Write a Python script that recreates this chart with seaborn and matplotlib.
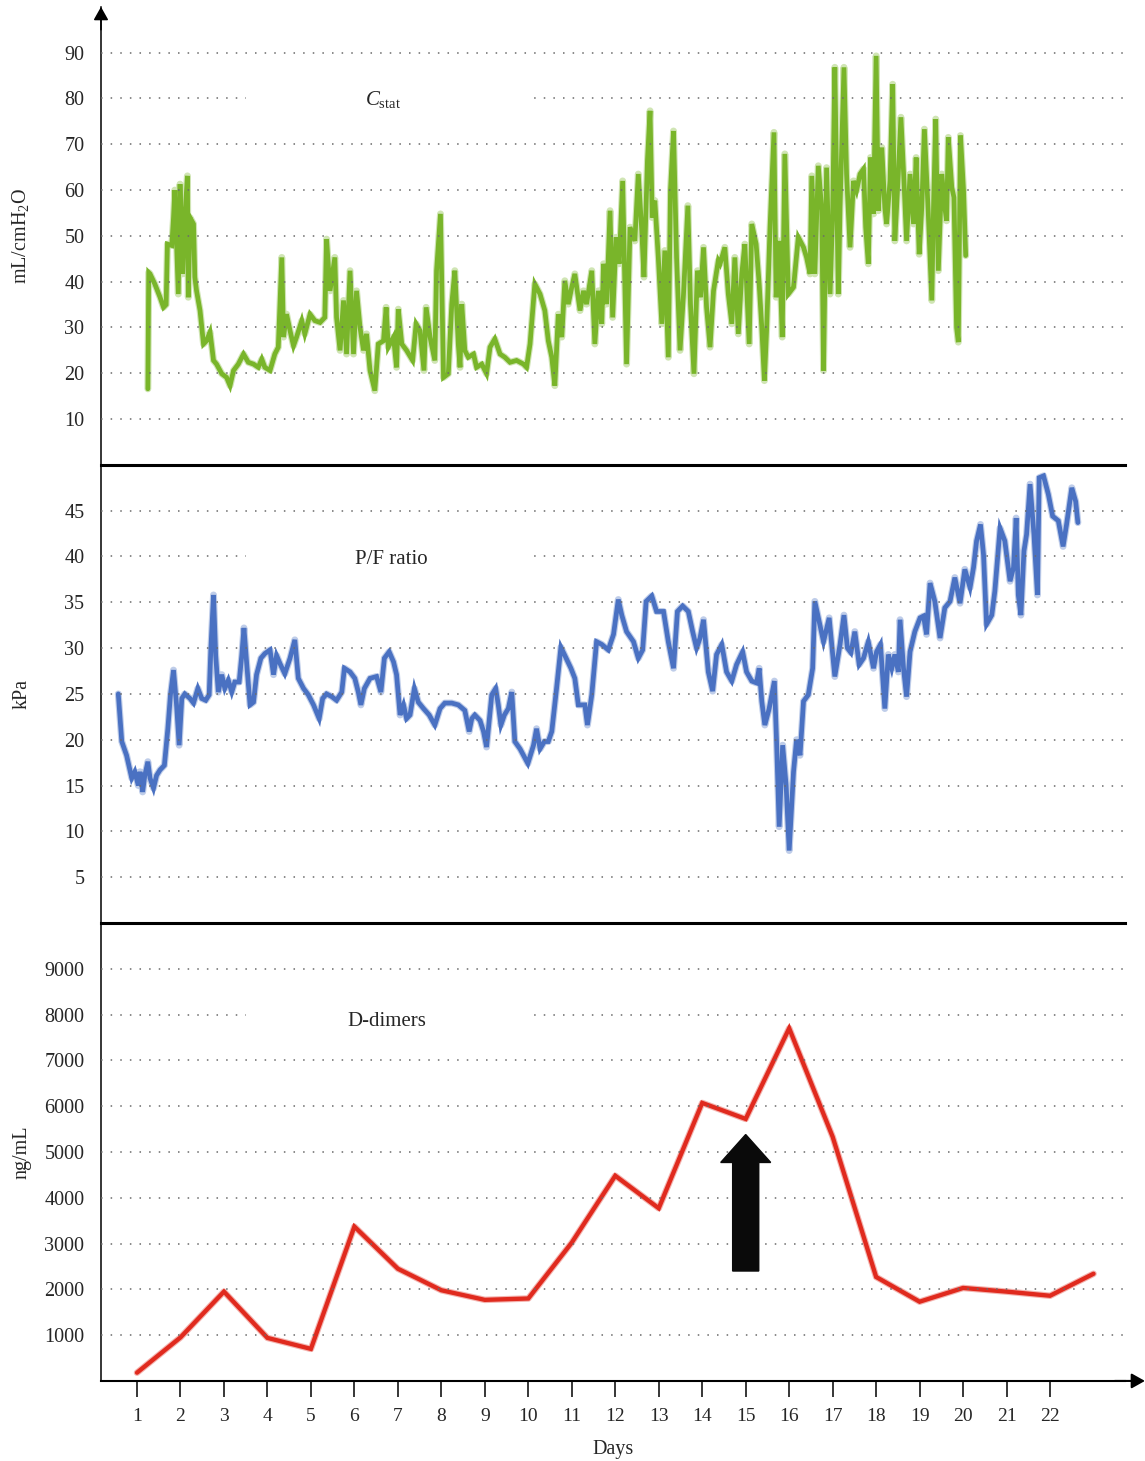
import numpy as np
import pandas as pd
import matplotlib
matplotlib.use("Agg")
import matplotlib.pyplot as plt
import seaborn as sns
from matplotlib.patches import Rectangle

# ---------------- data ----------------
days_ticks = list(range(1, 23))

# Static compliance (mL/cmH2O)
cstat_day = [
    1.25, 1.27, 1.30, 1.41, 1.53, 1.61, 1.67, 1.70, 1.80, 1.84,
    1.87, 1.95, 1.99, 2.05, 2.10, 2.16, 2.18, 2.22, 2.30, 2.33,
    2.37, 2.45, 2.53, 2.60, 2.68, 2.76, 2.83, 2.95, 3.06, 3.14,
    3.22, 3.33, 3.45, 3.56, 3.68, 3.79, 3.87, 3.94, 4.06, 4.17,
    4.25, 4.33, 4.37, 4.44, 4.52, 4.60, 4.67, 4.79, 4.86, 4.98,
    5.09, 5.21, 5.32, 5.36, 5.44, 5.55, 5.59, 5.67, 5.75, 5.82,
    5.90, 5.98, 6.05, 6.13, 6.21, 6.28, 6.36, 6.47, 6.55, 6.67,
    6.73, 6.78, 6.90, 6.97, 7.01, 7.09, 7.20, 7.34, 7.42, 7.51,
    7.60, 7.65, 7.74,
    7.85, 7.89, 7.98, 8.05, 8.16, 8.24, 8.31, 8.39, 8.43, 8.47,
    8.54, 8.62, 8.74, 8.81, 8.93, 9.04, 9.12, 9.23, 9.35, 9.46,
    9.58, 9.73, 9.89, 9.96, 10.04, 10.15, 10.27, 10.38, 10.46, 10.54,
    10.61, 10.69, 10.77, 10.84, 10.92, 11.00, 11.07, 11.19, 11.27, 11.34,
    11.46, 11.53, 11.61, 11.69, 11.73, 11.80, 11.88, 11.94, 12.02, 12.09,
    12.17, 12.26, 12.34, 12.45, 12.53, 12.61, 12.66, 12.74, 12.80, 12.85,
    12.91, 12.99, 13.07, 13.14, 13.22, 13.27, 13.34, 13.41, 13.49, 13.57,
    13.67, 13.73, 13.81, 13.89, 13.96, 14.03, 14.10, 14.18, 14.26, 14.37,
    14.41, 14.52, 14.60, 14.68, 14.75, 14.83, 14.91, 14.98, 15.08, 15.14,
    15.24, 15.31, 15.37, 15.43, 15.48, 15.56, 15.65, 15.70, 15.77, 15.84,
    15.90, 15.98, 16.10, 16.21, 16.33, 16.40, 16.48, 16.52, 16.59, 16.67,
    16.75, 16.79, 16.86, 16.94, 17.00, 17.05, 17.13, 17.17, 17.26, 17.32,
    17.40, 17.48, 17.55, 17.63, 17.71, 17.76, 17.82, 17.87, 17.94, 18.00,
    18.05, 18.13, 18.20, 18.24, 18.32, 18.38, 18.43, 18.51, 18.57, 18.64,
    18.70, 18.78, 18.86, 18.92, 18.99, 19.05, 19.11, 19.20, 19.28, 19.32,
    19.37, 19.43, 19.51, 19.58, 19.62, 19.66, 19.74, 19.79, 19.85, 19.89,
    19.94, 20.01, 20.06,
]
cstat_val = [
    16.6, 42.0, 41.7, 39.5, 36.6, 34.4, 35.0, 48.2, 47.9, 54.0,
    60.0, 37.3, 61.3, 41.7, 54.0, 63.1, 36.6, 54.0, 52.6, 41.0,
    38.0, 33.7, 26.4, 27.1, 29.0, 22.8, 22.0, 19.9, 19.1, 17.3,
    20.6, 22.0, 24.2, 22.4, 22.0, 21.3, 23.1, 21.3, 20.6, 24.2,
    25.7, 45.3, 27.9, 32.9, 29.3, 26.0, 27.9, 31.5, 28.6, 32.9,
    31.5, 31.1, 32.2, 49.3, 38.0, 45.3, 32.2, 25.0, 35.9, 24.2,
    42.4, 24.2, 38.0, 30.0, 25.0, 28.6, 20.6, 16.2, 26.4, 27.1,
    34.4, 25.7, 27.9, 21.3, 34.0, 26.4, 25.0, 22.8, 30.8, 29.3,
    20.6, 34.4, 27.9,
    22.8, 42.4, 54.8, 19.1, 19.9, 35.1, 42.4, 26.4, 21.3, 35.1,
    25.0, 23.5, 24.2, 21.3, 22.0, 19.9, 25.7, 27.5, 24.2, 23.5,
    22.4, 22.8, 22.0, 21.3, 26.4, 39.5, 37.3, 33.7, 27.1, 23.5,
    17.3, 32.9, 27.9, 40.2, 35.1, 38.8, 41.7, 33.7, 38.0, 35.1,
    42.4, 26.4, 38.0, 30.8, 43.9, 35.1, 55.5, 32.2, 49.7, 43.9,
    62.0, 22.0, 51.9, 48.9, 63.5, 51.1, 41.0, 66.4, 77.3, 54.0,
    57.7, 45.3, 30.8, 46.8, 23.5, 59.9, 72.9, 45.3, 25.0, 37.3,
    56.6, 35.1, 19.9, 42.4, 36.6, 47.5, 34.4, 25.7, 38.0, 44.6,
    43.9, 47.5, 37.3, 30.8, 45.3, 28.6, 41.7, 48.2, 26.4, 52.6,
    48.2, 39.5, 30.0, 18.4, 29.3, 51.9, 72.6, 36.6, 48.9, 27.9,
    67.9, 37.3, 38.8, 49.7, 47.5, 45.3, 41.7, 63.1, 41.7, 65.3,
    55.5, 20.6, 64.9, 37.3, 54.8, 86.8, 37.3, 56.2, 86.8, 63.5,
    47.5, 62.0, 59.9, 63.5, 64.6, 51.9, 43.9, 67.1, 54.8, 89.3,
    55.5, 69.3, 56.2, 52.6, 62.0, 83.1, 48.9, 63.5, 75.9, 62.0,
    48.9, 63.5, 52.6, 67.1, 46.0, 56.2, 73.3, 54.8, 35.9, 56.2,
    75.5, 42.4, 63.5, 56.2, 53.3, 71.5, 60.6, 58.4, 30.0, 26.8,
    71.9, 59.9, 45.7,
]

# P/F ratio (kPa)
pf_day = [
    0.57, 0.65, 0.76, 0.88, 0.95, 1.03, 1.07, 1.13, 1.18, 1.25,
    1.30, 1.38, 1.45, 1.53, 1.63, 1.71, 1.77, 1.84, 1.91, 1.97,
    2.03, 2.10, 2.22, 2.30, 2.40, 2.49, 2.58, 2.66, 2.70, 2.76,
    2.81, 2.87, 2.95, 3.02, 3.10, 3.18, 3.25, 3.35, 3.41, 3.46,
    3.52, 3.60, 3.68, 3.75, 3.85, 3.94, 4.06, 4.14, 4.21, 4.29,
    4.40, 4.52, 4.63, 4.71, 4.83, 4.94, 5.06, 5.19, 5.27, 5.36,
    5.48, 5.59, 5.71, 5.77, 5.90, 6.01, 6.09, 6.15, 6.23, 6.36,
    6.51, 6.61, 6.69, 6.80, 6.90, 6.97, 7.05, 7.13, 7.20, 7.28,
    7.38, 7.47, 7.59, 7.72, 7.85, 7.97, 8.08, 8.24, 8.39, 8.54,
    8.64, 8.70, 8.77, 8.89, 8.97, 9.04, 9.16, 9.25, 9.31, 9.37,
    9.45, 9.54, 9.62, 9.69, 9.81, 9.89, 9.99, 10.12, 10.19, 10.27,
    10.37, 10.46, 10.54, 10.65, 10.75, 10.84, 10.98, 11.07, 11.15, 11.30,
    11.36, 11.46, 11.57, 11.69, 11.84, 11.96, 12.07, 12.15, 12.26, 12.42,
    12.53, 12.63, 12.71, 12.84, 12.95, 13.11, 13.22, 13.34, 13.43, 13.55,
    13.68, 13.78, 13.87, 13.95, 14.03, 14.14, 14.24, 14.33, 14.45, 14.56,
    14.68, 14.79, 14.93, 15.02, 15.14, 15.25, 15.31, 15.37, 15.44, 15.54,
    15.66, 15.71, 15.77, 15.85, 15.93, 16.00, 16.10, 16.17, 16.25, 16.33,
    16.44, 16.54, 16.59, 16.69, 16.79, 16.92, 17.00, 17.05, 17.17, 17.26,
    17.34, 17.42, 17.51, 17.61, 17.71, 17.82, 17.94, 18.01, 18.10, 18.20,
    18.28, 18.36, 18.43, 18.51, 18.55, 18.63, 18.70, 18.78, 18.89, 19.01,
    19.09, 19.16, 19.24, 19.35, 19.47, 19.58, 19.70, 19.81, 19.93, 20.04,
    20.16, 20.24, 20.31, 20.40, 20.47, 20.54, 20.66, 20.73, 20.85, 20.96,
    21.08, 21.16, 21.22, 21.27, 21.33, 21.40, 21.46, 21.54, 21.63, 21.71,
    21.75, 21.85, 21.96, 22.06, 22.19, 22.30, 22.38, 22.50, 22.59, 22.64,
]
pf_val = [
    25.0, 19.8, 18.3, 15.8, 16.5, 15.0, 16.5, 14.3, 16.1, 17.6,
    15.8, 14.7, 16.1, 16.7, 17.2, 21.2, 24.9, 27.6, 23.8, 19.4,
    24.5, 25.0, 24.5, 24.0, 25.6, 24.5, 24.3, 24.9, 30.0, 35.8,
    29.2, 25.2, 27.1, 25.6, 26.5, 25.2, 26.3, 26.3, 29.2, 32.2,
    28.5, 23.8, 24.1, 27.1, 28.9, 29.4, 29.8, 27.1, 29.2, 28.3,
    27.2, 28.9, 30.9, 26.7, 25.6, 24.9, 23.8, 22.3, 24.5, 25.0,
    24.7, 24.3, 25.2, 27.8, 27.4, 26.7, 25.2, 23.8, 25.6, 26.7,
    26.9, 25.2, 28.9, 29.6, 28.5, 27.1, 22.7, 23.8, 22.3, 22.7,
    25.6, 24.1, 23.4, 22.7, 21.6, 23.4, 24.0, 24.0, 23.8, 23.2,
    20.9, 22.3, 22.7, 22.1, 20.9, 19.2, 24.9, 25.6, 23.8, 21.6,
    22.7, 23.4, 25.2, 19.8, 19.0, 18.3, 17.4, 19.4, 21.2, 19.0,
    19.8, 19.8, 20.9, 25.6, 30.1, 29.2, 27.8, 26.7, 23.8, 23.8,
    21.6, 24.9, 30.7, 30.4, 29.8, 31.5, 35.3, 33.6, 31.8, 30.7,
    28.9, 29.8, 35.1, 35.7, 34.0, 34.0, 30.7, 27.8, 34.0, 34.6,
    34.0, 31.8, 30.0, 31.1, 33.1, 27.4, 25.3, 29.3, 30.4, 27.4,
    26.4, 28.2, 29.6, 27.4, 26.4, 26.2, 27.8, 24.2, 21.6, 23.4,
    26.4, 19.8, 10.5, 19.4, 15.0, 7.9, 16.5, 20.0, 18.3, 24.2,
    24.9, 27.8, 35.1, 32.9, 30.7, 33.3, 29.3, 26.9, 30.4, 33.6,
    30.0, 29.5, 31.8, 28.2, 28.9, 30.7, 27.8, 29.6, 30.4, 23.4,
    29.3, 27.8, 29.3, 27.4, 33.1, 27.8, 24.7, 29.6, 31.8, 33.3,
    33.5, 31.5, 37.1, 35.1, 31.1, 34.4, 35.1, 37.7, 34.9, 38.6,
    36.6, 38.8, 41.7, 43.5, 40.2, 32.6, 33.6, 36.2, 43.1, 41.7,
    37.3, 38.8, 44.2, 35.8, 33.6, 40.6, 42.4, 47.9, 42.4, 35.8,
    48.6, 48.8, 46.8, 44.4, 43.9, 41.1, 43.5, 47.5, 46.0, 43.7,
]

# D-dimers (ng/mL), one value per day
dd_day = list(range(1, 24))
dd_val = [180, 950, 1950, 940, 700, 3370, 2450, 1980, 1770, 1800,
          3020, 4480, 3770, 6070, 5720, 7700, 5330, 2270, 1730, 2030,
          1950, 1860, 2340]

cstat_ticks = [10, 20, 30, 40, 50, 60, 70, 80, 90]
pf_ticks = [5, 10, 15, 20, 25, 30, 35, 40, 45]
dd_ticks = [1000, 2000, 3000, 4000, 5000, 6000, 7000, 8000, 9000]

# event arrow (day, from, to) in D-dimer panel
event_day = 15
event_from, event_to = 2400, 5380

# ---------------- style ----------------
sns.set_style("white")
plt.rcParams["font.family"] = ["Liberation Serif", "DejaVu Serif"]
plt.rcParams["mathtext.fontset"] = "custom"
plt.rcParams["mathtext.rm"] = "Liberation Serif"
plt.rcParams["mathtext.it"] = "Liberation Serif:italic"
plt.rcParams["mathtext.bf"] = "Liberation Serif:bold"

GREEN = "#79b52a"
BLUE = "#4a71c2"
RED = "#e02a1e"

fig = plt.figure(figsize=(11.45, 14.61), dpi=100)
L, W, H = 0.0882, 0.8943, 0.3135
B3 = 0.0548
ax3 = fig.add_axes([L, B3, W, H])
ax2 = fig.add_axes([L, B3 + H, W, H], sharex=ax3)
ax1 = fig.add_axes([L, B3 + 2 * H, W, H], sharex=ax3)

panels = [
    (ax1, cstat_day, cstat_val, GREEN, 3.4, (0, 100), cstat_ticks, r"mL/cmH$_{\mathrm{2}}$O"),
    (ax2, pf_day, pf_val, BLUE, 3.4, (0, 50), pf_ticks, "kPa"),
    (ax3, dd_day, dd_val, RED, 3.1, (0, 10000), dd_ticks, "ng/mL"),
]

for ax, xs, ys, col, lw, ylim, ticks, ylab in panels:
    df = pd.DataFrame({"x": xs, "y": ys})
    sns.lineplot(data=df, x="x", y="y", ax=ax, sort=False, estimator=None,
                 color=col, lw=lw + 1.6, alpha=0.35)
    sns.lineplot(data=df, x="x", y="y", ax=ax, sort=False, estimator=None,
                 color=col, lw=lw, solid_joinstyle="miter")
    ax.set_ylim(*ylim)
    ax.set_yticks(ticks)
    ax.set_yticklabels([str(t) for t in ticks])
    ax.set_axisbelow(False)
    ax.yaxis.grid(True, color="#6a6a6a", linestyle=(0, (1, 5.3)), linewidth=1.1)
    ax.xaxis.grid(False)
    ax.tick_params(axis="y", length=0, pad=12, labelsize=14.5)
    ax.set_ylabel(ylab, fontsize=14.5)
    ax.yaxis.set_label_coords(-0.068, 0.5)
    ax.set_xlabel("")
    for s in ("top", "right"):
        ax.spines[s].set_visible(False)
    ax.spines["left"].set_color("black")
    ax.spines["left"].set_linewidth(1.1)
    ax.spines["bottom"].set_color("black")

ax3.set_xlim(0.172, 23.723)

for ax in (ax1, ax2):
    ax.spines["bottom"].set_linewidth(2.2)
    ax.tick_params(axis="x", bottom=False, labelbottom=False)
ax3.spines["bottom"].set_linewidth(1.5)

ax3.set_xticks(days_ticks)
ax3.set_xticklabels([str(d) for d in days_ticks])
ax3.tick_params(axis="x", bottom=True, direction="out", length=11.5, width=1.1,
                pad=8, labelsize=14, color="black")
ax3.set_xlabel("Days", fontsize=14.5)
ax3.xaxis.set_label_coords(0.5, -0.128)

# axis arrows
arrow_kw = dict(arrowstyle="-|>,head_length=0.8,head_width=0.45", color="black",
                lw=1.1, shrinkA=0, shrinkB=0, mutation_scale=10)
ax1.annotate("", xy=(0, 1.0), xytext=(0, 0.95), xycoords="axes fraction",
             arrowprops=arrow_kw, annotation_clip=False)
ax3.annotate("", xy=(1.0195, 0), xytext=(0.99, 0), xycoords="axes fraction",
             arrowprops=dict(arrow_kw, lw=1.5), annotation_clip=False)

# panel titles with white gap in the grid line
titles = [
    (ax1, r"$C_{\mathrm{stat}}$", 6.66, 78.6, 80, 1.6),
    (ax2, "P/F ratio", 6.84, 39.2, 40, 0.8),
    (ax3, "D-dimers", 6.74, 7750, 8000, 160),
]
for ax, txt, tx, ty, gy, dy in titles:
    ax.add_patch(Rectangle((3.5, gy - dy), 6.55, 2 * dy, facecolor="white",
                           edgecolor="none", zorder=2.6))
    ax.text(tx, ty, txt, ha="center", va="baseline", fontsize=15, zorder=5)

# black event arrow
ax3.arrow(event_day, event_from, 0, event_to - event_from, width=0.6,
          head_width=1.15, head_length=610, length_includes_head=True,
          color="#0a0a0a", zorder=4)

fig.savefig("out.png", dpi=100)
